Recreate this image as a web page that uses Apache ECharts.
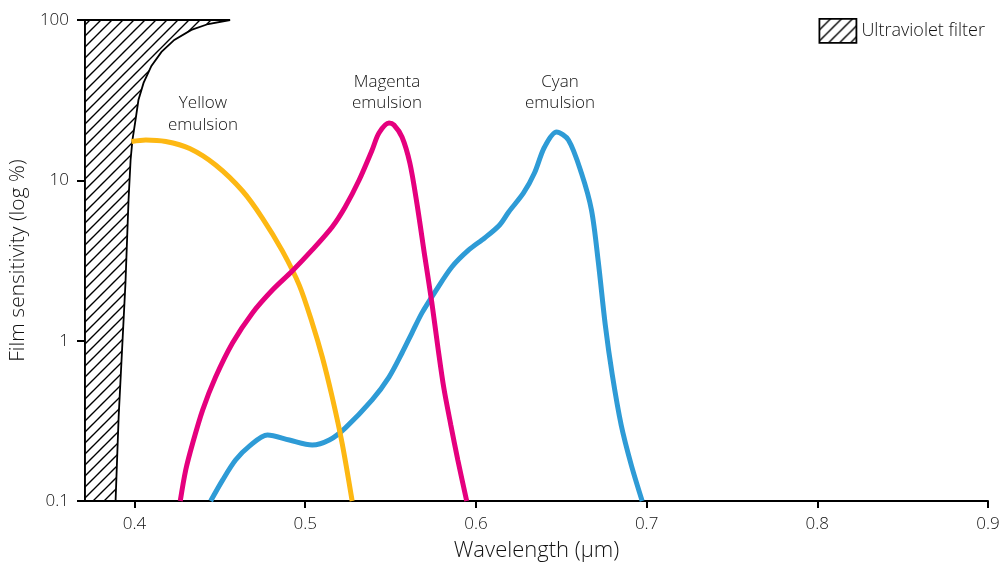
<!DOCTYPE html>
<html><head><meta charset="utf-8">
<script src="https://cdn.jsdelivr.net/npm/echarts@6/dist/echarts.min.js"></script>
<style>html,body{margin:0;padding:0;background:#fff}#c{width:1003px;height:569px}</style>
</head><body><div id="c"></div>
<script>
// ---- data ----
const xTicks = [0.4, 0.5, 0.6, 0.7, 0.8, 0.9];
const yTicks = [0.1, 1, 10, 100];
const xRange = [0.371, 0.9];
const yRange = [0.1, 100];

// Ultraviolet filter boundary (wavelength, sensitivity), top to bottom
const uvBoundary = [
  [0.4560, 100], [0.4432, 94.4], [0.4333, 86.7], [0.4233, 75.1], [0.4158, 63.2],
  [0.4099, 51.7], [0.4053, 40.5], [0.4023, 31.7], [0.4006, 23.8], [0.3988, 17.9],
  [0.3977, 13.4], [0.3965, 7.54], [0.3947, 2.29], [0.3930, 1.01], [0.3907, 0.334],
  [0.3889, 0.1]
];

const yellowEmulsion = [
  [0.3982, 17.47], [0.4066, 17.87], [0.4183, 17.47], [0.4323, 15.79], [0.4475, 12.46],
  [0.4633, 8.58], [0.4749, 5.82], [0.4866, 3.63], [0.4965, 2.22], [0.5041, 1.29],
  [0.5100, 0.791], [0.5158, 0.445], [0.5216, 0.230], [0.5275, 0.1]
];

const magentaEmulsion = [
  [0.4268, 0.1], [0.4300, 0.156], [0.4341, 0.230], [0.4399, 0.369], [0.4475, 0.593],
  [0.4574, 0.967], [0.4691, 1.49], [0.4808, 2.07], [0.4924, 2.72], [0.5041, 3.68],
  [0.5158, 5.12], [0.5234, 6.82], [0.5316, 10.05], [0.5392, 15.46], [0.5432, 19.74],
  [0.5491, 22.79], [0.5520, 22.14], [0.5567, 18.64], [0.5613, 12.83], [0.5654, 7.22],
  [0.5701, 3.33], [0.5742, 1.72], [0.5777, 0.913], [0.5812, 0.507], [0.5853, 0.298],
  [0.5894, 0.180], [0.5946, 0.1]
];

const cyanEmulsion = [
  [0.4446, 0.1], [0.4516, 0.135], [0.4592, 0.180], [0.4673, 0.220], [0.4779, 0.258],
  [0.4907, 0.240], [0.5041, 0.2235], [0.5141, 0.240], [0.5234, 0.285], [0.5392, 0.427],
  [0.5491, 0.593], [0.5567, 0.838], [0.5625, 1.116], [0.5684, 1.49], [0.5760, 2.01],
  [0.5859, 2.88], [0.5958, 3.68], [0.6051, 4.37], [0.6139, 5.27], [0.6192, 6.35],
  [0.6279, 8.34], [0.6343, 11.11], [0.6402, 16.14], [0.6472, 20.02], [0.6542, 17.85],
  [0.6618, 11.11], [0.6677, 6.53], [0.6717, 3.10], [0.6758, 1.25], [0.6799, 0.611],
  [0.6851, 0.298], [0.6910, 0.168], [0.6974, 0.1]
];

// ---- rendering ----
const FONT = '"Open Sans", Roboto, sans-serif';
const TXT = '#111';

const T = 11;
const pc = document.createElement('canvas');
pc.width = T; pc.height = T;
const g = pc.getContext('2d');
g.fillStyle = '#fff'; g.fillRect(0, 0, T, T);
g.strokeStyle = '#000'; g.lineWidth = 1.4;
g.beginPath();
g.moveTo(-1, T + 1); g.lineTo(T + 1, -1);
g.moveTo(-1, 1); g.lineTo(1, -1);
g.moveTo(T - 1, T + 1); g.lineTo(T + 1, T - 1);
g.stroke();
const hatch = { image: pc, repeat: 'repeat' };

const chart = echarts.init(document.getElementById('c'), null, { renderer: 'canvas' });

const uvPolygon = [[xRange[0], yRange[0]], [xRange[0], yRange[1]]].concat(uvBoundary);
const annoFont = '300 17px ' + FONT;

chart.setOption({
  animation: false,
  backgroundColor: '#fff',
  textStyle: { fontFamily: FONT },
  grid: { left: 82, right: 15, top: 20, bottom: 68 },
  legend: {
    right: 13, top: 13,
    itemWidth: 37, itemHeight: 24, itemGap: 6,
    textStyle: { fontSize: 18, color: TXT, fontFamily: FONT, fontWeight: 300 },
    data: [{ name: 'Ultraviolet filter', icon: 'rect',
      itemStyle: { color: hatch, borderColor: '#000', borderWidth: 1.8 } }]
  },
  xAxis: {
    type: 'value', min: xRange[0], max: xRange[1],
    name: 'Wavelength (μm)', nameLocation: 'middle', nameGap: 39,
    nameTextStyle: { fontSize: 22, color: TXT, fontFamily: FONT, fontWeight: 300 },
    axisLine: { lineStyle: { color: '#000', width: 2 } },
    axisTick: { show: true, length: 7, lineStyle: { color: '#000', width: 2 }, customValues: xTicks },
    axisLabel: { customValues: xTicks, fontSize: 17, color: TXT, margin: 15, fontWeight: 300,
      formatter: v => String(Math.round(v * 10) / 10) },
    splitLine: { show: false }
  },
  yAxis: {
    type: 'log', logBase: 10, min: yRange[0], max: yRange[1],
    name: 'Film sensitivity (log %)', nameLocation: 'middle', nameGap: 48,
    nameTextStyle: { fontSize: 21, color: TXT, fontFamily: FONT, fontWeight: 300 },
    axisLine: { show: true, lineStyle: { color: '#000', width: 2 } },
    axisTick: { show: true, length: 8, lineStyle: { color: '#000', width: 2 } },
    minorTick: { show: false },
    axisLabel: { fontSize: 17, color: TXT, margin: 16, fontWeight: 300,
      formatter: v => String(v) },
    splitLine: { show: false }
  },
  graphic: [
    { type: 'text', x: 203, y: 114, style: { text: 'Yellow\nemulsion', fill: TXT, font: annoFont, align: 'center', verticalAlign: 'middle', lineHeight: 22 } },
    { type: 'text', x: 387, y: 93, style: { text: 'Magenta\nemulsion', fill: TXT, font: annoFont, align: 'center', verticalAlign: 'middle', lineHeight: 21 } },
    { type: 'text', x: 560, y: 93, style: { text: 'Cyan\nemulsion', fill: TXT, font: annoFont, align: 'center', verticalAlign: 'middle', lineHeight: 21 } }
  ],
  series: [
    {
      name: 'Ultraviolet filter', type: 'custom', z: 1,
      itemStyle: { color: hatch, borderColor: '#000', borderWidth: 1.8 },
      data: [0],
      renderItem: (params, api) => ({
        type: 'polygon',
        shape: { points: uvPolygon.map(p => api.coord(p)) },
        style: { fill: hatch, stroke: '#000', lineWidth: 1.8 }
      })
    },
    { name: 'Cyan emulsion', type: 'line', data: cyanEmulsion, smooth: 0.3, symbol: 'none', z: 2,
      lineStyle: { color: '#2E9BD6', width: 5 } },
    { name: 'Yellow emulsion', type: 'line', data: yellowEmulsion, smooth: 0.3, symbol: 'none', z: 3,
      lineStyle: { color: '#FDB813', width: 5 } },
    { name: 'Magenta emulsion', type: 'line', data: magentaEmulsion, smooth: 0.3, symbol: 'none', z: 4,
      lineStyle: { color: '#E5007E', width: 5 } }
  ]
});
</script>
</body></html>
